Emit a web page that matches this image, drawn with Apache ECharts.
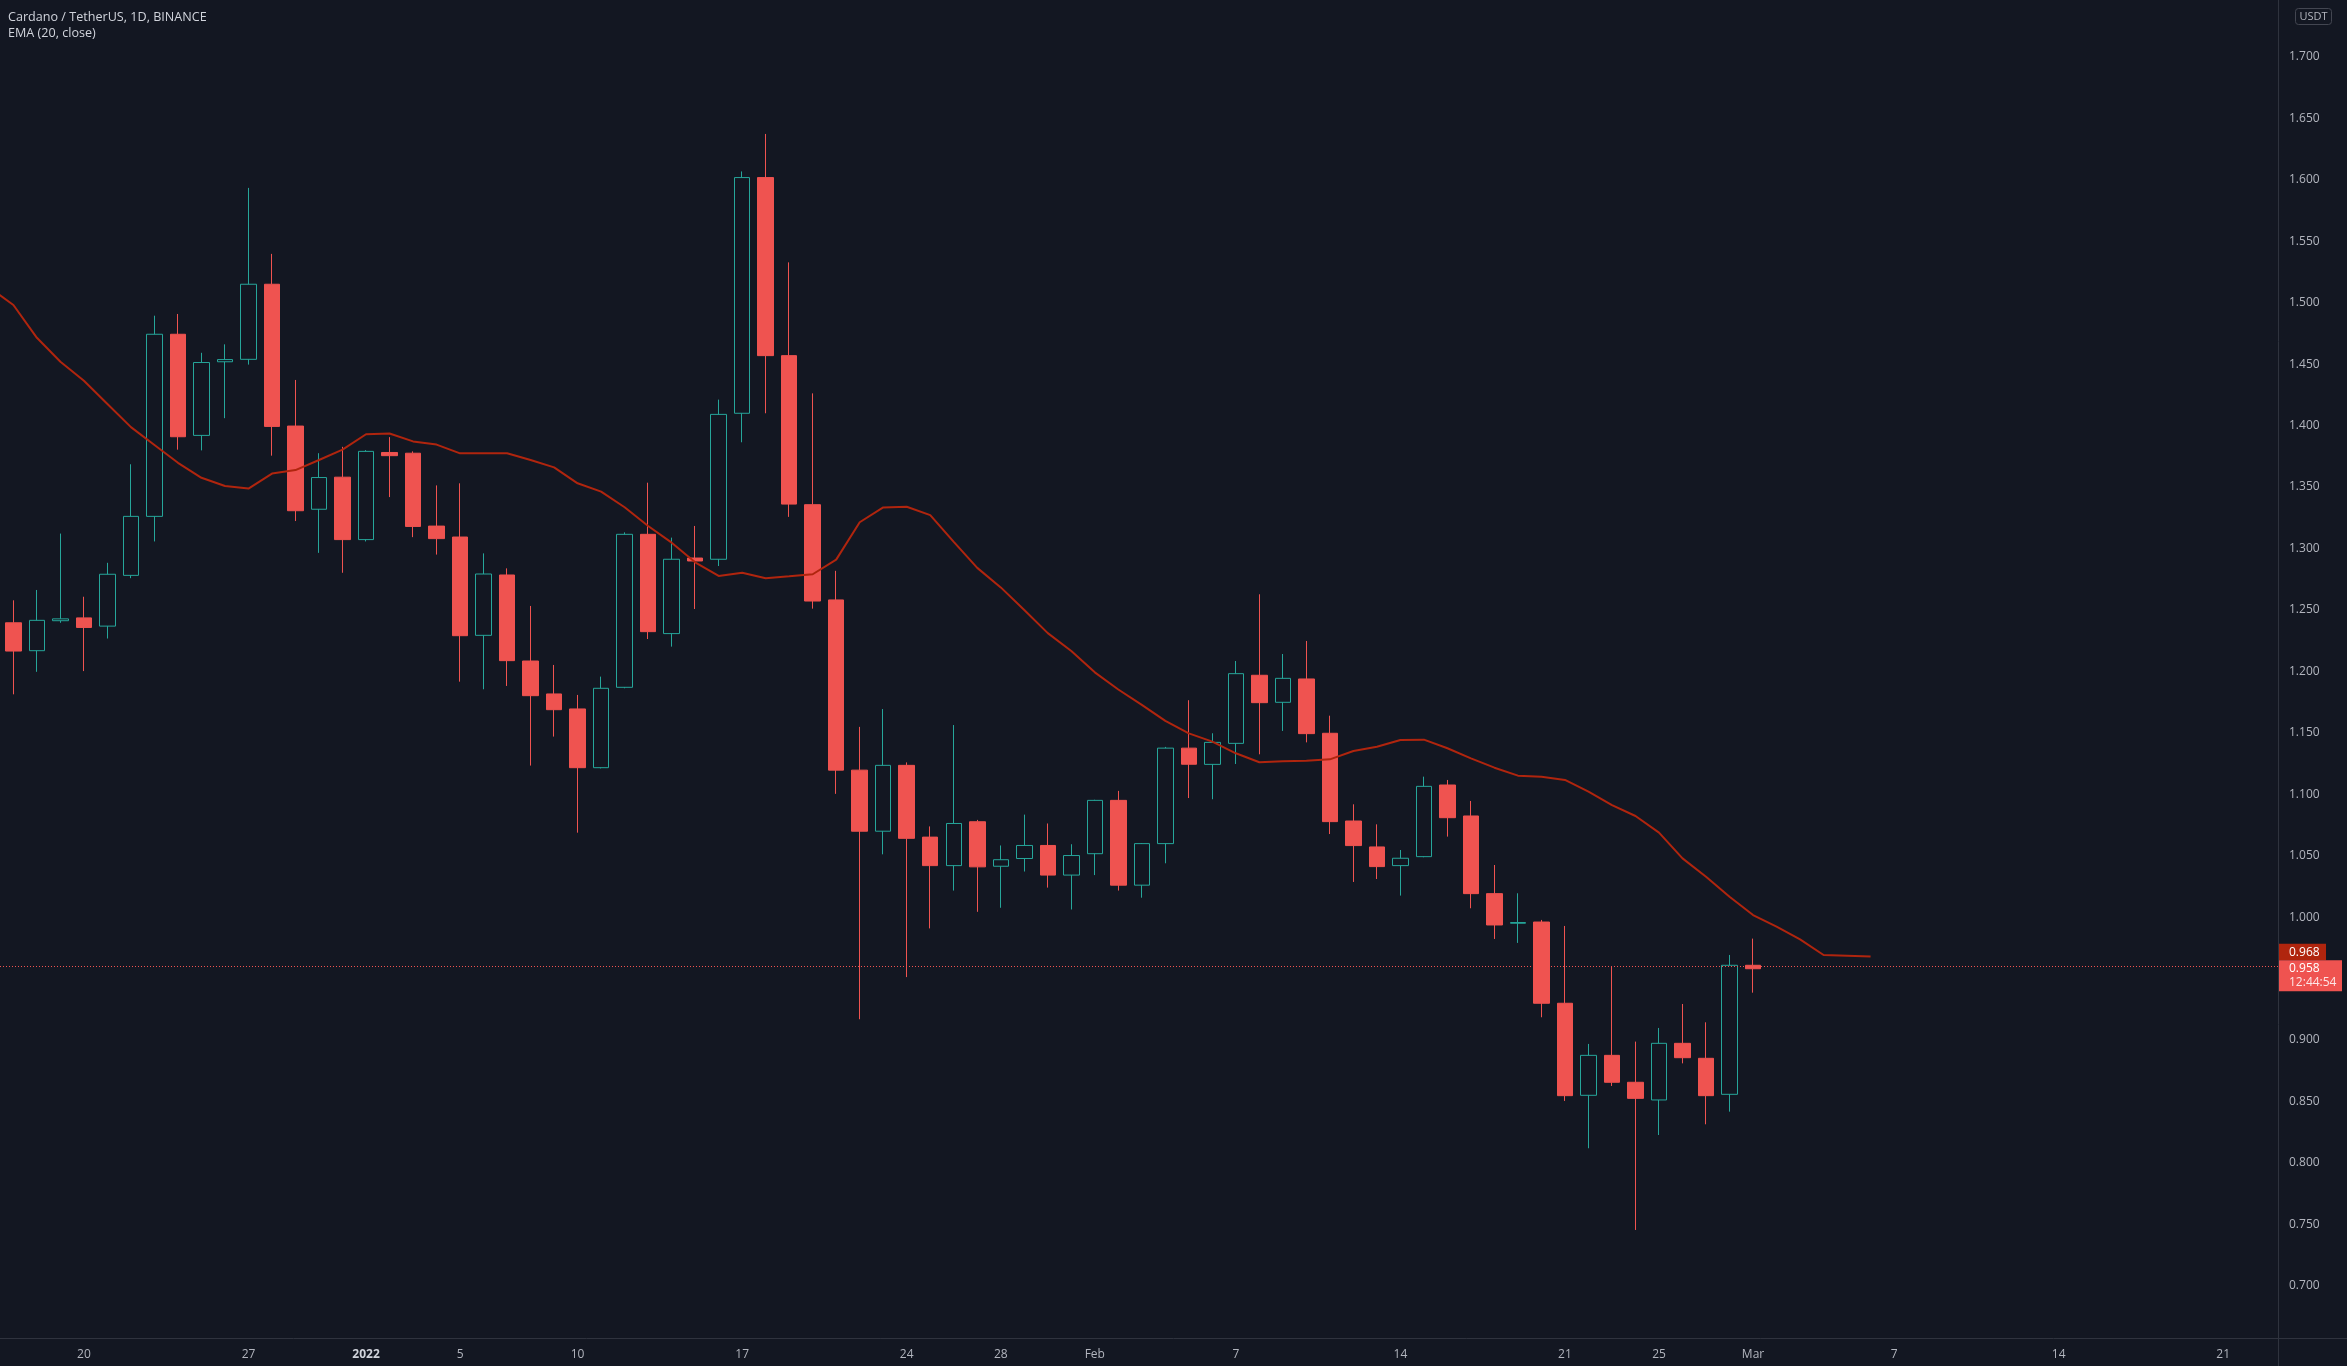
<!DOCTYPE html>
<html>
<head>
<meta charset="utf-8">
<script src="https://cdn.jsdelivr.net/npm/echarts@6/dist/echarts.min.js"></script>
<style>
html,body{margin:0;padding:0;background:#131722;overflow:hidden;}
#c{width:2347px;height:1366px;}
</style>
</head>
<body>
<div id="c"></div>
<script>
// ---------------- DATA ----------------
const title = 'Cardano / TetherUS, 1D, BINANCE';
const indicatorTitle = 'EMA (20, close)';
const quoteUnit = 'USDT';
const countdown = '12:44:54';

const dates = [
 '2021-12-17','2021-12-18','2021-12-19','2021-12-20','2021-12-21','2021-12-22','2021-12-23','2021-12-24','2021-12-25','2021-12-26',
 '2021-12-27','2021-12-28','2021-12-29','2021-12-30','2021-12-31','2022-01-01','2022-01-02','2022-01-03','2022-01-04','2022-01-05',
 '2022-01-06','2022-01-07','2022-01-08','2022-01-09','2022-01-10','2022-01-11','2022-01-12','2022-01-13','2022-01-14','2022-01-15',
 '2022-01-16','2022-01-17','2022-01-18','2022-01-19','2022-01-20','2022-01-21','2022-01-22','2022-01-23','2022-01-24','2022-01-25',
 '2022-01-26','2022-01-27','2022-01-28','2022-01-29','2022-01-30','2022-01-31','2022-02-01','2022-02-02','2022-02-03','2022-02-04',
 '2022-02-05','2022-02-06','2022-02-07','2022-02-08','2022-02-09','2022-02-10','2022-02-11','2022-02-12','2022-02-13','2022-02-14',
 '2022-02-15','2022-02-16','2022-02-17','2022-02-18','2022-02-19','2022-02-20','2022-02-21','2022-02-22','2022-02-23','2022-02-24',
 '2022-02-25','2022-02-26','2022-02-27','2022-02-28','2022-03-01'
];
const open = [
 1.2395,1.2168,1.2412,1.2435,1.2368,1.2781,1.3261,1.4743,1.3920,1.4519,
 1.4539,1.5150,1.3996,1.3319,1.3580,1.3072,1.3781,1.3775,1.3182,1.3093,
 1.2293,1.2784,1.2084,1.1816,1.1694,1.1216,1.1870,1.3115,1.2307,1.2922,
 1.2912,1.4100,1.6018,1.4569,1.3356,1.2581,1.1196,1.0699,1.1235,1.0651,
 1.0419,1.0776,1.0414,1.0477,1.0583,1.0342,1.0516,1.0950,1.0260,1.0598,
 1.1375,1.1243,1.1414,1.1968,1.1748,1.1938,1.1496,1.0782,1.0571,1.0419,
 1.0492,1.1075,1.0823,1.0191,0.9950,0.9960,0.9299,0.8550,0.8875,0.8656,
 0.8512,0.8973,0.8851,0.8558,0.9608
];
const high = [
 1.2578,1.2662,1.3121,1.2607,1.2883,1.3685,1.4894,1.4908,1.4592,1.4661,
 1.5934,1.5397,1.4371,1.3775,1.3827,1.3800,1.3906,1.3790,1.3513,1.3530,
 1.2960,1.2838,1.2532,1.2052,1.1808,1.1957,1.3131,1.3535,1.3088,1.3183,
 1.4211,1.6068,1.6373,1.5328,1.4262,1.2818,1.1548,1.1693,1.1259,1.0738,
 1.1563,1.0791,1.0583,1.0834,1.0762,1.0593,1.0955,1.1027,1.0603,1.1385,
 1.1765,1.1496,1.2084,1.2627,1.2141,1.2247,1.1639,1.0918,1.0755,1.0546,
 1.1143,1.1116,1.0945,1.0424,1.0194,0.9977,0.9928,0.8968,0.9594,0.8987,
 0.9098,0.9293,0.9144,0.9692,0.9825
];
const low = [
 1.1813,1.1996,1.2395,1.2002,1.2267,1.2758,1.3057,1.3804,1.3798,1.4060,
 1.4496,1.3755,1.3223,1.2964,1.2802,1.3057,1.3418,1.3092,1.2950,1.1916,
 1.1854,1.1881,1.1233,1.1469,1.0687,1.1210,1.1862,1.2263,1.2201,1.2507,
 1.2857,1.3864,1.4100,1.3257,1.2510,1.1003,0.9169,1.0511,0.9512,0.9908,
 1.0216,1.0043,1.0076,1.0371,1.0240,1.0062,1.0342,1.0216,1.0158,1.0438,
 1.0969,1.0959,1.1246,1.1325,1.1515,1.1422,1.0676,1.0286,1.0310,1.0175,
 1.0487,1.0655,1.0072,0.9822,0.9790,0.9185,0.8504,0.8119,0.8626,0.7454,
 0.8227,0.8810,0.8314,0.8417,0.9385
];
const close = [
 1.2165,1.2415,1.2427,1.2357,1.2790,1.3261,1.4743,1.3909,1.4513,1.4537,
 1.5150,1.3993,1.3307,1.3577,1.3072,1.3790,1.3755,1.3179,1.3080,1.2290,
 1.2792,1.2087,1.1802,1.1688,1.1216,1.1862,1.3115,1.2323,1.2912,1.2898,
 1.4091,1.6018,1.4569,1.3361,1.2572,1.1196,1.0699,1.1235,1.0641,1.0419,
 1.0762,1.0409,1.0467,1.0583,1.0342,1.0501,1.0950,1.0260,1.0598,1.1375,
 1.1244,1.1422,1.1981,1.1745,1.1943,1.1493,1.0777,1.0582,1.0411,1.0479,
 1.1064,1.0809,1.0191,0.9936,0.9956,0.9299,0.8547,0.8875,0.8656,0.8525,
 0.8973,0.8856,0.8547,0.9608,0.9580
];
// EMA line as plotted (starts 2021-12-16, one value per day)
const emaStart = '2021-12-16';
const ema = [
 1.5120,
 1.4981,1.4714,1.4519,1.4365,1.4176,1.3987,1.3842,1.3697,1.3575,1.3508,
 1.3487,1.3609,1.3638,1.3720,1.3804,1.3929,1.3935,1.3871,1.3845,1.3774,
 1.3774,1.3774,1.3720,1.3660,1.3530,1.3462,1.3335,1.3183,1.3047,1.2887,
 1.2776,1.2803,1.2757,1.2773,1.2790,1.2909,1.3213,1.3334,1.3339,1.3271,
 1.3054,1.2842,1.2683,1.2499,1.2311,1.2166,1.1992,1.1852,1.1727,1.1597,
 1.1495,1.1428,1.1333,1.1260,1.1268,1.1273,1.1284,1.1352,1.1387,1.1441,
 1.1444,1.1374,1.1292,1.1216,1.1151,1.1143,1.1116,1.1021,1.0912,1.0823,
 1.0687,1.0478,1.0329,1.0166,1.0017,0.9922,0.9819,0.9692,0.9686,0.9680
];
const tickDates = ['2021-12-20','2021-12-27','2022-01-01','2022-01-05','2022-01-10','2022-01-17','2022-01-24','2022-01-28',
 '2022-02-01','2022-02-07','2022-02-14','2022-02-21','2022-02-25','2022-03-01','2022-03-07','2022-03-14','2022-03-21'];
const tickLabels = ['20','27','2022','5','10','17','24','28','Feb','7','14','21','25','Mar','7','14','21'];
const yTicks = [0.70,0.75,0.80,0.85,0.90,0.95,1.00,1.05,1.10,1.15,1.20,1.25,1.30,1.35,1.40,1.45,1.50,1.55,1.60,1.65,1.70];

// ---------------- CHART ----------------
const FONT = '"Open Sans", Roboto, sans-serif';
const BG = '#131722';
const UP = '#26a69a', DOWN = '#ef5350', EMA_COLOR = '#b0250e';
const AXIS_TEXT = '#b2b5be', LINE = '#2f333e';
const day0 = Date.parse(dates[0] + 'T00:00:00Z');
const dayIndex = d => Math.round((Date.parse(d + 'T00:00:00Z') - day0) / 86400000);

const candleData = dates.map((d, i) => [dayIndex(d), open[i], close[i], low[i], high[i]]);
const emaBase = dayIndex(emaStart);
const emaData = ema.map((v, k) => [emaBase + k, v]);
const xTickVals = tickDates.map(dayIndex);
const lastClose = close[close.length - 1];
const lastEma = ema[ema.length - 1];

const W = 2347, H = 1366, AXIS_W = 69, AXIS_H = 28;
const chart = echarts.init(document.getElementById('c'), null, {renderer: 'canvas', width: W, height: H});

chart.setOption({
  backgroundColor: BG,
  animation: false,
  grid: {left: 0, right: AXIS_W, top: 0, bottom: AXIS_H},
  xAxis: {
    type: 'value', min: -0.57, max: 96.33,
    axisLine: {show: false}, axisTick: {show: false}, splitLine: {show: false},
    axisLabel: {
      customValues: xTickVals,
      formatter: v => { const k = xTickVals.indexOf(Math.round(v)); const t = tickLabels[k]; return t === '2022' ? '{b|' + t + '}' : t; },
      color: AXIS_TEXT, fontSize: 12, fontFamily: FONT, margin: 11,
      rich: {b: {fontWeight: 'bold', color: '#d1d4dc', fontSize: 12, fontFamily: FONT}}
    }
  },
  yAxis: {
    type: 'value', position: 'right', min: 0.6575, max: 1.7463, scale: true,
    axisLine: {show: false}, axisTick: {show: false}, splitLine: {show: false},
    axisLabel: {customValues: yTicks, formatter: v => v.toFixed(3), color: AXIS_TEXT, fontSize: 12, fontFamily: FONT, margin: 11}
  },
  series: [
    {
      type: 'candlestick', data: candleData, encode: {x: 0, y: [1, 2, 3, 4]},
      barWidth: 16,
      itemStyle: {color: 'transparent', color0: DOWN, borderColor: UP, borderColor0: DOWN, borderWidth: 1},
      markLine: {silent: true, symbol: 'none', label: {show: false},
        lineStyle: {color: DOWN, type: [1, 2], width: 1}, data: [{yAxis: lastClose}]}
    },
    {
      type: 'line', data: emaData, symbol: 'none', showSymbol: false, z: 5,
      lineStyle: {color: EMA_COLOR, width: 2}
    }
  ]
});

const yClose = chart.convertToPixel({yAxisIndex: 0}, lastClose);
const yEma = chart.convertToPixel({yAxisIndex: 0}, lastEma);
const closeTop = yClose - 8.5;
const emaTop = Math.min(yEma - 8.5, closeTop - 16.5);
const axisX = W - AXIS_W;

chart.setOption({
  graphic: [
    {type: 'line', shape: {x1: 0, y1: H - AXIS_H + 0.5, x2: W, y2: H - AXIS_H + 0.5}, style: {stroke: LINE, lineWidth: 1}, z: 10},
    {type: 'line', shape: {x1: axisX + 0.5, y1: 0, x2: axisX + 0.5, y2: H}, style: {stroke: LINE, lineWidth: 1}, z: 10},
    {type: 'text', left: 8, top: 11, style: {text: title, fill: '#d1d4dc', font: '12.6px ' + FONT}, z: 10},
    {type: 'text', left: 8, top: 27, style: {text: indicatorTitle, fill: '#d1d4dc', font: '12.6px ' + FONT}, z: 10},
    {type: 'rect', shape: {x: 2295.5, y: 8.5, width: 36, height: 16, r: 3}, style: {fill: 'none', stroke: '#434651', lineWidth: 1}, z: 10},
    {type: 'text', x: 2313.5, y: 16.5, style: {text: quoteUnit, fill: AXIS_TEXT, font: '11px ' + FONT, align: 'center', verticalAlign: 'middle'}, z: 11},
    {type: 'rect', shape: {x: axisX + 1, y: emaTop, width: 47, height: 16.5}, style: {fill: EMA_COLOR}, z: 10},
    {type: 'text', x: axisX + 11, y: emaTop + 8.5, style: {text: lastEma.toFixed(3), fill: '#ffffff', font: '12px ' + FONT, verticalAlign: 'middle'}, z: 11},
    {type: 'rect', shape: {x: axisX + 1, y: closeTop, width: 63, height: 31}, style: {fill: DOWN}, z: 10},
    {type: 'text', x: axisX + 11, y: yClose, style: {text: lastClose.toFixed(3), fill: '#ffffff', font: '12px ' + FONT, verticalAlign: 'middle'}, z: 11},
    {type: 'text', x: axisX + 11, y: yClose + 14, style: {text: countdown, fill: '#fde6e6', font: '12px ' + FONT, verticalAlign: 'middle'}, z: 11}
  ]
});
</script>
</body>
</html>
